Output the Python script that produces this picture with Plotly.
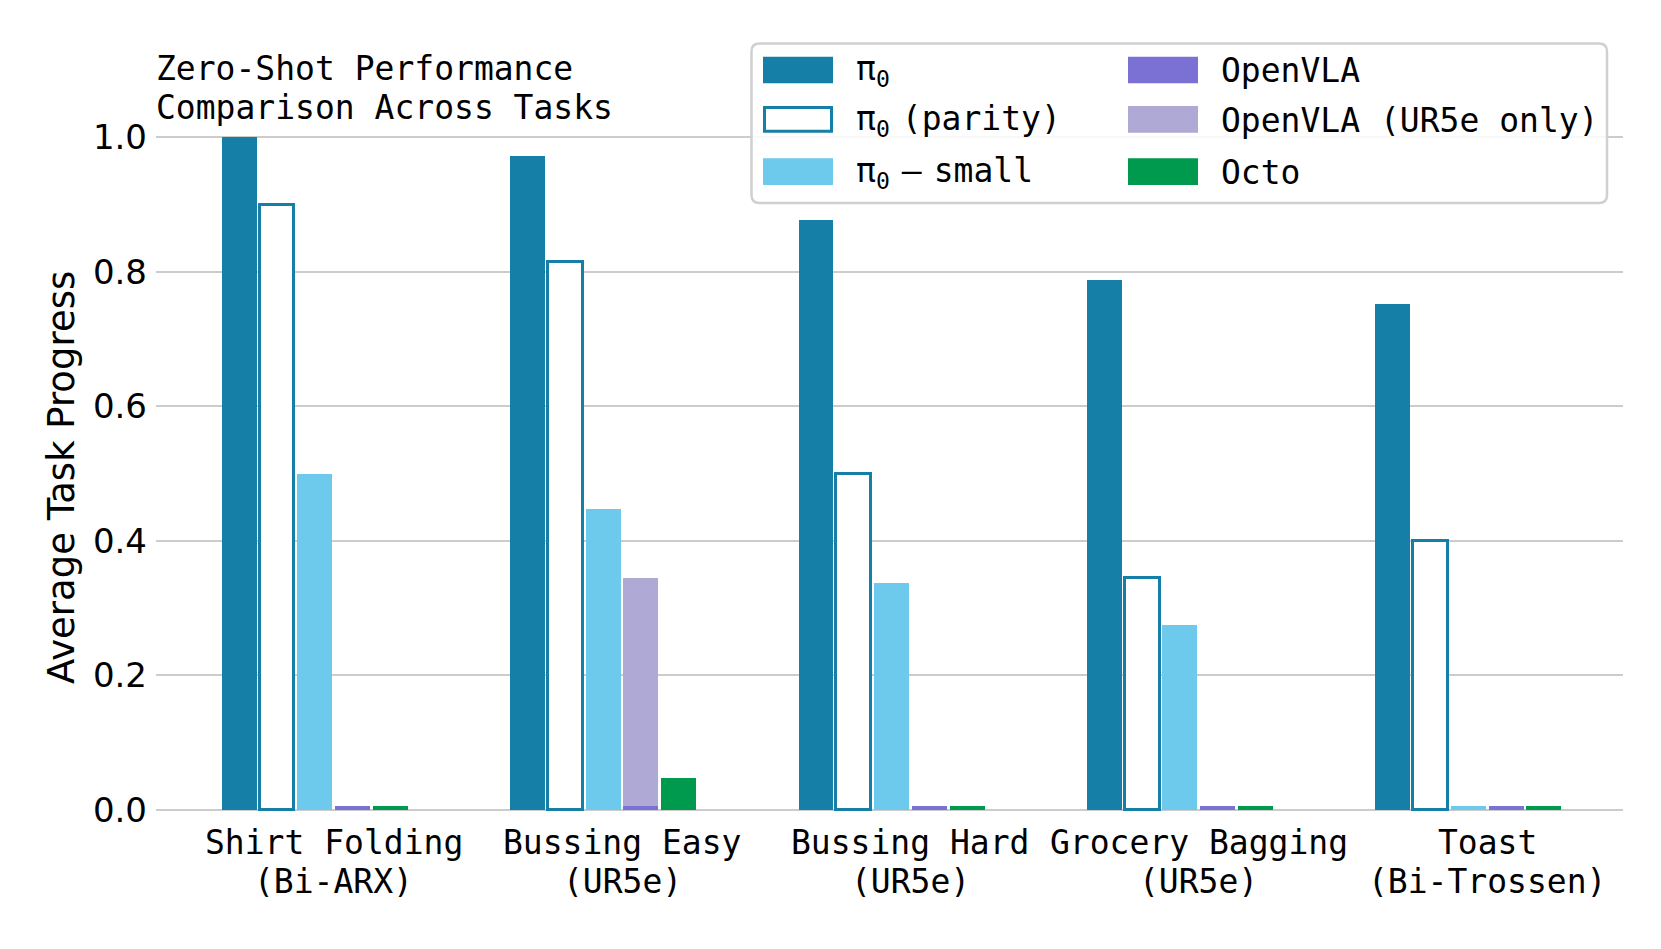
import plotly.graph_objects as go

# ---------------- data ----------------
task_names = ["Shirt Folding", "Bussing Easy", "Bussing Hard", "Grocery Bagging", "Toast"]
task_robots = ["(Bi-ARX)", "(UR5e)", "(UR5e)", "(UR5e)", "(Bi-Trossen)"]

pi0 = [1.0, 0.973, 0.877, 0.788, 0.752]
pi0_parity = [0.90, 0.815, 0.50, 0.345, 0.40]
pi0_small = [0.50, 0.447, 0.337, 0.274, 0.005]
openvla = [0.005, 0.005, 0.005, 0.005, 0.005]
openvla_ur5e = [None, 0.345, None, None, None]
octo = [0.005, 0.047, 0.005, 0.005, 0.005]

y_ticks = [0.0, 0.2, 0.4, 0.6, 0.8, 1.0]

# ---------------- style ----------------
C_PI0 = "#167fa7"
C_SMALL = "#6ecaec"
C_OVLA = "#7b70d4"
C_OVLA_UR = "#afa9d6"
C_OCTO = "#009a4e"
MONO = "DejaVu Sans Mono"
SANS = "DejaVu Sans"

W, H = 1661, 949
OFF = 8  # page body margin
PL, PR, PT, PB = 156, 1623, 136, 811   # plot area in screenshot pixels
ML, MR = PL - OFF, W - (PR - OFF)
MT, MB = PT - OFF, H - (PB - OFF)
PW = PR - PL
PH = PB - PT

SLOT = 0.131
BARW = 0.121


def px_x(px):
    return (px - PL) / PW


def px_y(py):
    return (PB - py) / PH


def xs(slot):
    return [i + (slot - 2.5) * SLOT for i in range(len(task_names))]


fig = go.Figure()

series = [
    ("π0", pi0, 0, C_PI0, C_PI0, 0),
    ("π0 (parity)", pi0_parity, 1, "white", C_PI0, 3),
    ("π0 − small", pi0_small, 2, C_SMALL, C_SMALL, 0),
    ("OpenVLA (UR5e only)", openvla_ur5e, 3, C_OVLA_UR, C_OVLA_UR, 0),
    ("OpenVLA", openvla, 3, C_OVLA, C_OVLA, 0),
    ("Octo", octo, 4, C_OCTO, C_OCTO, 0),
]
for name, vals, slot, fill, line, lw in series:
    fig.add_trace(go.Bar(
        name=name, x=xs(slot), y=vals, width=BARW,
        marker=dict(color=fill, line=dict(color=line, width=lw)),
        showlegend=False,
    ))

annotations = []
shapes = []

# title
annotations.append(dict(text="Zero-Shot Performance", xref="paper", yref="paper",
                        x=px_x(154), y=px_y(68.5), xanchor="left", yanchor="middle",
                        showarrow=False, font=dict(family=MONO, size=33, color="black")))
annotations.append(dict(text="Comparison Across Tasks", xref="paper", yref="paper",
                        x=px_x(154), y=px_y(107), xanchor="left", yanchor="middle",
                        showarrow=False, font=dict(family=MONO, size=33, color="black")))

# x category labels (two lines each)
for i, (n, r) in enumerate(zip(task_names, task_robots)):
    annotations.append(dict(text=n, xref="x", yref="paper", x=i, y=px_y(842),
                            xanchor="center", yanchor="middle", showarrow=False,
                            font=dict(family=MONO, size=33, color="black")))
    annotations.append(dict(text=r, xref="x", yref="paper", x=i, y=px_y(881),
                            xanchor="center", yanchor="middle", showarrow=False,
                            font=dict(family=MONO, size=33, color="black")))

# y axis title
annotations.append(dict(text="Average Task Progress", xref="paper", yref="paper",
                        x=px_x(62), y=px_y(478), xanchor="center", yanchor="middle",
                        textangle=-90, showarrow=False,
                        font=dict(family=SANS, size=37, color="black")))

# ---------------- legend (manual, to match wide swatches) ----------------
bx0, bx1, by0, by1, rad = 751.5, 1607, 43.5, 203, 8
X0, X1 = px_x(bx0), px_x(bx1)
Y0, Y1 = px_y(by1), px_y(by0)
rx, ry = rad / PW, rad / PH
path = (f"M {X0+rx},{Y1} L {X1-rx},{Y1} Q {X1},{Y1} {X1},{Y1-ry} "
        f"L {X1},{Y0+ry} Q {X1},{Y0} {X1-rx},{Y0} L {X0+rx},{Y0} "
        f"Q {X0},{Y0} {X0},{Y0+ry} L {X0},{Y1-ry} Q {X0},{Y1} {X0+rx},{Y1} Z")
shapes.append(dict(type="path", xref="paper", yref="paper", path=path,
                   fillcolor="rgba(255,255,255,0.85)", line=dict(color="#d0d0d0", width=2.5),
                   layer="above"))

PI = "π<sub>0</sub>"
SP = "<span style=\"font-size:20px\"> </span>"
legend_items = [
    (PI, C_PI0, C_PI0, 0, 763, 854, 56.7, 83.3),
    (PI + SP + "(parity)", "white", C_PI0, 3, 763, 854, 106, 132.7),
    (PI + SP + "—" + SP + "small", C_SMALL, C_SMALL, 0, 763, 854, 158.3, 185),
    ("OpenVLA", C_OVLA, C_OVLA, 0, 1128, 1219, 56.7, 83.3),
    ("OpenVLA (UR5e only)", C_OVLA_UR, C_OVLA_UR, 0, 1128, 1219, 106, 132.7),
    ("Octo", C_OCTO, C_OCTO, 0, 1128, 1219, 158.3, 185),
]
for txt, fill, line, lw, sx, tx, sy0, sy1 in legend_items:
    if lw:
        shapes.append(dict(type="rect", xref="paper", yref="paper",
                           x0=px_x(sx + 1.5), x1=px_x(sx + 68.5), y0=px_y(sy1 - 1.5), y1=px_y(sy0 + 1.5),
                           fillcolor=fill, line=dict(color=line, width=lw), layer="above"))
    else:
        shapes.append(dict(type="rect", xref="paper", yref="paper",
                           x0=px_x(sx), x1=px_x(sx + 70), y0=px_y(sy1), y1=px_y(sy0),
                           fillcolor=fill, line=dict(width=0), layer="above"))
    annotations.append(dict(text=txt, xref="paper", yref="paper", x=px_x(tx),
                            y=px_y((sy0 + sy1) / 2 + 1), xanchor="left", yanchor="middle",
                            showarrow=False, font=dict(family=MONO, size=33, color="black")))

fig.update_layout(
    width=W, height=H,
    margin=dict(l=ML, r=MR, t=MT, b=MB, pad=0),
    plot_bgcolor="white", paper_bgcolor="white",
    barmode="overlay", bargap=0,
    showlegend=False,
    xaxis=dict(range=[-0.616, 4.471], showticklabels=False, showgrid=False,
               zeroline=False, showline=False, ticks=""),
    yaxis=dict(range=[-0.002, 1.002], tickvals=y_ticks, ticktext=[f"{v:.1f}" for v in y_ticks],
               showgrid=True, gridcolor="#cccccc", gridwidth=2, zeroline=False,
               showline=False, ticks="", ticklabelstandoff=8,
               tickfont=dict(family=SANS, size=34, color="black")),
    annotations=annotations, shapes=shapes,
)

fig.write_html("out.html")
